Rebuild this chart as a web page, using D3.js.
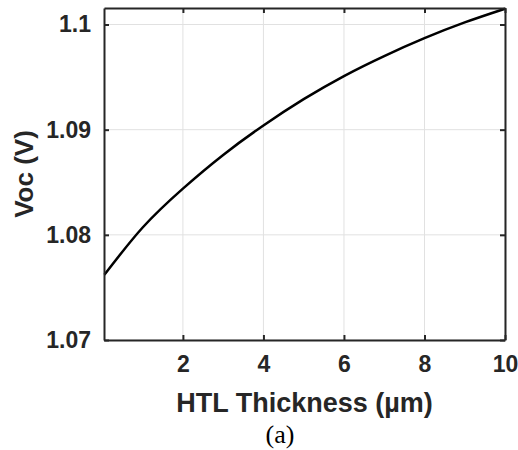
<!DOCTYPE html>
<html>
<head>
<meta charset="utf-8">
<script src="https://cdn.jsdelivr.net/npm/d3@7"></script>
<style>
  html, body { margin: 0; padding: 0; background: #fff; }
  svg { display: block; }
</style>
</head>
<body>
<svg id="chart" width="518" height="450"></svg>
<script>
// HTL thickness (um) vs open-circuit voltage (V)
const thickness = [0.05, 1, 2, 3, 4, 5, 6, 7, 8, 9, 10];
const voc = [1.0762, 1.0807, 1.0844, 1.0876, 1.0904, 1.0929, 1.0951, 1.0970, 1.0987, 1.1002, 1.1015];
const xTicks = [2, 4, 6, 8, 10];
const yTicks = [1.07, 1.08, 1.09, 1.1];

const MARGIN = { top: 8, right: 13, bottom: 110, left: 104 };
const W = 518, H = 450;
const innerWidth = W - MARGIN.left - MARGIN.right;
const innerHeight = H - MARGIN.top - MARGIN.bottom;
const AXIS_COLOR = '#262626';
const FONT = "'Liberation Sans', Arial, sans-serif";

const svg = d3.select('#chart');
const g = svg.append('g').attr('transform', `translate(${MARGIN.left},${MARGIN.top})`);

const x = d3.scaleLinear().domain([0.04, 10]).range([0, innerWidth]);
const y = d3.scaleLinear().domain([1.07, 1.10157]).range([innerHeight, 0]);

// grid
g.append('g')
  .selectAll('line')
  .data(xTicks)
  .join('line')
  .attr('x1', d => x(d)).attr('x2', d => x(d))
  .attr('y1', 0).attr('y2', innerHeight)
  .attr('stroke', '#e1e1e1').attr('stroke-width', 1);
g.append('g')
  .selectAll('line')
  .data(yTicks)
  .join('line')
  .attr('y1', d => y(d)).attr('y2', d => y(d))
  .attr('x1', 0).attr('x2', innerWidth)
  .attr('stroke', '#e1e1e1').attr('stroke-width', 1);

// curve
const line = d3.line()
  .x((d, i) => x(thickness[i]))
  .y(d => y(d))
  .curve(d3.curveNatural);
g.append('path')
  .datum(voc)
  .attr('fill', 'none')
  .attr('stroke', '#000')
  .attr('stroke-width', 2.5)
  .attr('d', line);

// axes (ticks inside, mirrored on top/right)
const styleAxis = sel => {
  sel.select('.domain').attr('stroke', AXIS_COLOR).attr('stroke-width', 2);
  sel.selectAll('.tick line').attr('stroke', AXIS_COLOR).attr('stroke-width', 2);
  sel.selectAll('.tick text')
    .attr('fill', '#262626')
    .attr('font-family', FONT)
    .attr('font-weight', 'bold')
    .attr('font-size', '23px');
};

g.append('g')
  .attr('transform', `translate(0,${innerHeight})`)
  .call(d3.axisBottom(x).tickValues(xTicks).tickFormat(d3.format('d')).tickSizeInner(-5).tickSizeOuter(0).tickPadding(16))
  .call(styleAxis);

g.append('g')
  .call(d3.axisTop(x).tickValues(xTicks).tickSizeInner(-5).tickSizeOuter(0))
  .call(styleAxis)
  .call(sel => sel.selectAll('.tick text').remove());

g.append('g')
  .call(d3.axisLeft(y).tickValues(yTicks).tickFormat(d => d3.format('')(d)).tickSizeInner(-5).tickSizeOuter(0).tickPadding(13))
  .call(styleAxis);

g.append('g')
  .attr('transform', `translate(${innerWidth},0)`)
  .call(d3.axisRight(y).tickValues(yTicks).tickSizeInner(-5).tickSizeOuter(0))
  .call(styleAxis)
  .call(sel => sel.selectAll('.tick text').remove());

// labels
svg.append('text')
  .attr('x', MARGIN.left + innerWidth / 2)
  .attr('y', 412)
  .attr('text-anchor', 'middle')
  .attr('font-family', FONT)
  .attr('font-weight', 'bold')
  .attr('font-size', '27px')
  .attr('fill', '#262626')
  .text('HTL Thickness (µm)');

svg.append('text')
  .attr('transform', `translate(33,${MARGIN.top + innerHeight / 2}) rotate(-90)`)
  .attr('text-anchor', 'middle')
  .attr('font-family', FONT)
  .attr('font-weight', 'bold')
  .attr('font-size', '26px')
  .attr('fill', '#262626')
  .text('Voc (V)');

svg.append('text')
  .attr('x', 280)
  .attr('y', 443)
  .attr('text-anchor', 'middle')
  .attr('font-family', "'Liberation Serif', 'Times New Roman', serif")
  .attr('font-size', '26px')
  .attr('fill', '#000')
  .text('(a)');
</script>
</body>
</html>
